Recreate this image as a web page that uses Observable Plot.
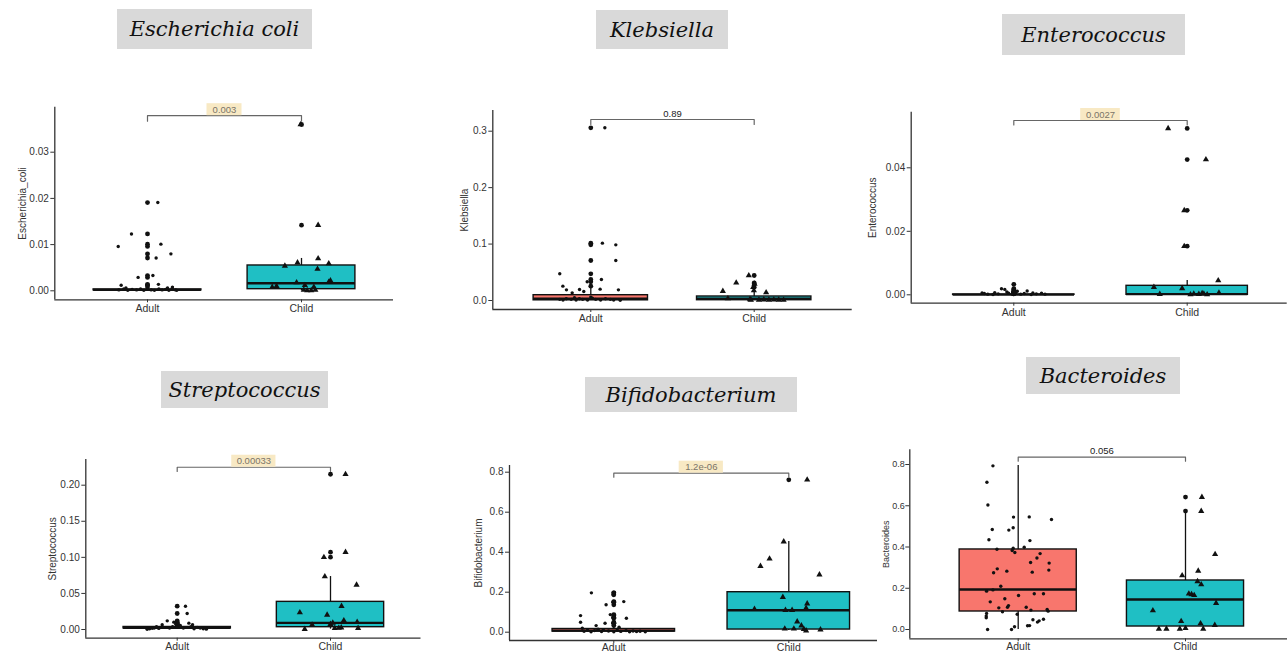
<!DOCTYPE html>
<html><head><meta charset="utf-8">
<script src="https://cdn.jsdelivr.net/npm/d3@7"></script>
<script src="https://cdn.jsdelivr.net/npm/@observablehq/plot@0.6"></script>
<style>
body{margin:0;background:#fff;}
#root{position:relative;width:1287px;height:653px;overflow:hidden;background:#fff;}
.title{position:absolute;background:#d9d9d9;display:flex;align-items:center;justify-content:center;font-family:"DejaVu Serif",serif;font-style:italic;color:#111;white-space:nowrap;font-size:21px;}
.panel{position:absolute;}
.panel svg{overflow:visible;}
</style></head><body><div id="root"></div>
<script>
// ---------------- data ----------------
const groups = ["Adult", "Child"];
const taxa = ["Escherichia coli", "Klebsiella", "Enterococcus", "Streptococcus", "Bifidobacterium", "Bacteroides"];
const yTitles = ["Escherichia_coli", "Klebsiella", "Enterococcus", "Streptococcus", "Bifidobacterium", "Bacteroides"];
const yTicks = [[0, 0.01, 0.02, 0.03], [0, 0.1, 0.2, 0.3], [0, 0.02, 0.04], [0, 0.05, 0.1, 0.15, 0.2], [0, 0.2, 0.4, 0.6, 0.8], [0, 0.2, 0.4, 0.6, 0.8]];
const yFormats = [".2f", ".1f", ".2f", ".2f", ".1f", ".1f"];
const pLabels = ["0.003", "0.89", "0.0027", "0.00033", "1.2e-06", "0.056"];
const pHighlight = [true, false, true, true, true, false];
const bracketY = [0.0379, 0.3207, 0.0549, 0.2249, 0.795, 0.8354];
const bracketTip = [0.0367, 0.3119, 0.0535, 0.219, 0.775, 0.816];
// box stats [q1, median, q3, whiskerLow, whiskerHigh]
const boxAdult = [[0.0001, 0.0002, 0.0003, 0, 0.0007], [0.0003, 0.003, 0.0094, 0, 0.0236], [0, 0.00005, 0.0001, 0, 0.0002], [0.0015, 0.0025, 0.0035, 0, 0.0055], [0.003, 0.008, 0.016, 0, 0.028], [0.0873, 0.194, 0.388, 0, 0.795]];
const boxChild = [[0.00035, 0.00165, 0.00548, 0, 0.0070], [0.0005, 0.003, 0.0071, 0, 0.0177], [0, 0.0002, 0.00283, 0, 0.0045], [0.0032, 0.0092, 0.0383, 0.0005, 0.0734], [0.0133, 0.11, 0.2, 0.008, 0.453], [0.0145, 0.1455, 0.2376, 0.003, 0.572]];
// jittered observations [horizontal jitter (category units), value]
const ecoliAdult = [[-0.19,0.0096],[-0.104,0.0123],[0.067,0.0191],[0.087,0.0101],[0.056,0.0071],[0.152,0.0080],[-0.061,0.0029],[0.035,0.0033],[0.071,0.0014],[-0.171,0.0012],[0.162,0.0008],[-0.186,0.0002],[-0.154,0.0004],[-0.128,0.0001],[-0.1,0.0003],[-0.071,0.0002],[-0.045,0.0004],[-0.024,0.0001],[0.0,0.0003],[0.024,0.0002],[0.045,0.0001],[0.074,0.0004],[0.095,0.0002],[0.117,0.0003],[0.139,0.0001],[0.16,0.0005],[0.182,0.0002],[0.19,0.0001],[-0.14,0.0006],[0.13,0.0006]];
const ecoliChild = [[-0.006,0.0360],[0.108,0.0142],[-0.108,0.0054],[-0.026,0.0061],[0.108,0.0070],[0.177,0.0059],[0.104,0.0047],[-0.032,0.0018],[0.188,0.0022],[0.022,0.0012],[-0.19,0.0008],[-0.162,0.0010],[0.015,0.0002],[0.037,0.0001],[0.063,0.0001],[0.09,0.0002],[0.08,0.0008],[0.177,0.0019]];
const klebAdult = [[0.086,0.306],[-0.19,0.0473],[0.071,0.1016],[0.153,0.0986],[0.153,0.0709],[0.065,0.0372],[-0.022,0.0331],[-0.171,0.0254],[-0.149,0.0189],[-0.114,0.0136],[-0.069,0.0195],[-0.043,0.016],[0.057,0.0201],[0.169,0.0189],[-0.19,0.002],[-0.17,0.001],[-0.15,0.003],[-0.12,0.002],[-0.09,0.001],[-0.07,0.003],[-0.05,0.002],[-0.02,0.001],[0.01,0.004],[0.03,0.002],[0.06,0.001],[0.09,0.003],[0.12,0.002],[0.14,0.001],[0.18,0.0005],[0.0,0.006],[-0.1,0.005]];
const klebChild = [[-0.192,0.0165],[-0.11,0.0313],[-0.033,0.0443],[0.073,0.0142],[-0.161,0.0035],[-0.006,0.0236],[0.002,0.0295],[-0.002,0.0177],[-0.02,0.001],[0.029,0.001],[0.059,0.0015],[0.09,0.001],[0.18,0.0008],[-0.026,0.002],[0.12,0.0012],[0.15,0.001]];
const enteroAdult = [[-0.183,0.0006],[-0.17,0.0004],[-0.15,0.0002],[-0.12,0.0001],[-0.071,0.0019],[-0.052,0.0017],[-0.09,0.0003],[-0.03,0.0005],[-0.01,0.0002],[0.0,0.0033],[0.01,0.0008],[0.04,0.0002],[0.077,0.0012],[0.06,0.0004],[0.1,0.0001],[0.13,0.0003],[0.16,0.0005],[0.18,0.0002],[-0.04,0.0009],[0.02,0.0011],[-0.11,0.0007],[0.11,0.0006]];
const enteroChild = [[-0.11,0.0524],[0.108,0.0426],[-0.017,0.0266],[-0.017,0.0153],[0.179,0.0045],[-0.192,0.0024],[-0.029,0.002],[-0.158,0.0002],[0.038,0.0003],[0.067,0.0002],[0.096,0.0003],[0.115,0.0001],[0.183,0.0006],[0.019,0.0001],[0.086,0.0005]];
const streptoAdult = [[0.054,0.0323],[0.065,0.0222],[-0.065,0.012],[-0.022,0.0102],[0.076,0.0088],[-0.098,0.0065],[-0.135,0.004],[-0.196,0.0003],[-0.163,0.0018],[-0.18,0.001],[-0.15,0.002],[-0.12,0.0015],[-0.09,0.003],[-0.05,0.002],[-0.03,0.004],[0.0,0.003],[0.02,0.0055],[0.04,0.002],[0.09,0.004],[0.11,0.001],[0.13,0.003],[0.15,0.002],[0.17,0.001],[0.19,0.0005],[0.1,0.0065],[-0.01,0.0075]];
const streptoChild = [[0.098,0.2152],[-0.043,0.1002],[0.098,0.1072],[-0.037,0.0734],[0.17,0.0619],[0.072,0.0323],[-0.2,0.0236],[-0.022,0.0203],[-0.12,0.0065],[-0.168,0.0005],[0.015,0.0092],[0.087,0.0125],[0.174,0.0102],[0.18,0.0018],[0.028,0.0018],[0.054,0.002],[0.07,0.0025],[0.0,0.0075]];
const bifidoAdult = [[-0.128,0.1967],[0.057,0.153],[-0.044,0.137],[-0.19,0.083],[0.072,0.07],[-0.19,0.05],[-0.05,0.045],[-0.101,0.033],[-0.02,0.088],[0.0,0.197],[-0.004,0.187],[-0.004,0.15],[-0.004,0.075],[-0.004,0.045],[-0.17,0.005],[-0.15,0.01],[-0.13,0.002],[-0.11,0.008],[-0.09,0.015],[-0.07,0.003],[-0.06,0.012],[-0.03,0.006],[0.0,0.002],[0.02,0.01],[0.04,0.004],[0.07,0.008],[0.09,0.002],[0.11,0.006],[0.13,0.003],[0.15,0.005],[0.18,0.002],[-0.18,0.02],[0.03,0.025]];
const bifidoChild = [[0.105,0.762],[-0.029,0.453],[-0.11,0.367],[-0.162,0.33],[0.175,0.288],[-0.034,0.175],[0.105,0.143],[-0.196,0.115],[-0.019,0.11],[0.019,0.11],[0.099,0.12],[0.048,0.053],[0.072,0.033],[-0.023,0.017],[0.086,0.015],[0.099,0.008],[0.181,0.013],[0.029,0.017]];
const bactAdult = [[-0.151,0.7935],[-0.187,0.714],[-0.181,0.604],[-0.155,0.485],[-0.175,0.435],[-0.028,0.545],[-0.03,0.493],[-0.056,0.482],[0.066,0.546],[0.199,0.533],[0.07,0.431],[0.036,0.399],[-0.127,0.389],[-0.036,0.383],[-0.03,0.394],[-0.02,0.373],[0.131,0.368],[0.112,0.347],[0.074,0.325],[0.185,0.322],[0.183,0.288],[-0.125,0.294],[-0.147,0.275],[-0.068,0.283],[0.084,0.278],[-0.104,0.21],[-0.151,0.192],[-0.189,0.186],[0.002,0.165],[0.096,0.173],[0.151,0.173],[-0.08,0.149],[-0.167,0.134],[-0.058,0.116],[-0.064,0.108],[-0.116,0.105],[0.048,0.108],[0.173,0.097],[0.179,0.089],[0.076,0.094],[-0.094,0.086],[-0.189,0.078],[-0.191,0.065],[-0.191,0.057],[-0.006,0.074],[0.151,0.05],[0.088,0.047],[0.125,0.042],[0.115,0.036],[0.068,0.019],[0.056,0.018],[-0.022,0.013],[-0.183,0.0],[-0.04,0.0]];
const bactChild = [[0.098,0.642],[0.094,0.574],[0.177,0.365],[0.076,0.284],[-0.02,0.262],[0.072,0.233],[0.094,0.218],[0.02,0.173],[0.036,0.17],[0.052,0.166],[0.183,0.128],[-0.195,0.092],[-0.026,0.04],[0.09,0.029],[0.175,0.021],[-0.159,0.003],[-0.114,0.003],[-0.034,0.003],[0.0,0.006],[0.106,0.003]];
const pointSets = [[ecoliAdult, ecoliChild], [klebAdult, klebChild], [enteroAdult, enteroChild], [streptoAdult, streptoChild], [bifidoAdult, bifidoChild], [bactAdult, bactChild]];

// ---------------- layout (pixels) and styles ----------------
const groupFill = ["#F8766D", "#1FBFC4"];
const titleBoxes = [[117, 9, 195, 40], [596, 10, 132, 39], [1002, 14, 183, 41], [161, 371, 167, 37], [585, 377, 212, 35], [1026, 357, 154, 37]];
const layout = [
  {x0:0, y0:60, w:430, h:265, left:54.3, right:393, top:106.7, bottom:299.3, c1:147, c2:301, ref:[0,290.3,0.03,151.7], lab:31, tf:10, xpad:2},
  {x0:430, y0:60, w:430, h:265, left:492.3, right:851.7, top:110, bottom:309, c1:590.3, c2:753.7, ref:[0,300,0.3,130.7], lab:27, tf:10, xpad:2},
  {x0:860, y0:60, w:427, h:265, left:910.7, right:1286.7, top:111.7, bottom:302.7, c1:1013.3, c2:1186.7, ref:[0,294.3,0.04,167.3], lab:37, tf:10, xpad:2},
  {x0:0, y0:415, w:430, h:238, left:85.3, right:420.5, top:459, bottom:637.7, c1:176.7, c2:330, ref:[0,629,0.2,484.7], lab:32, tf:10, xpad:1},
  {x0:430, y0:415, w:447, h:238, left:509, right:877, top:465, bottom:640, c1:613.3, c2:788.3, ref:[0,631.7,0.8,471.7], lab:30, tf:10, xpad:0},
  {x0:860, y0:415, w:427, h:238, left:909.3, right:1287, top:449.3, bottom:638.3, c1:1017.7, c2:1185, ref:[0,629,0.8,464], lab:22, tf:9, xpad:1}
];

const root = document.getElementById("root");

taxa.forEach((t, k) => {
  const [tx, ty, tw, th] = titleBoxes[k];
  const d = document.createElement("div");
  d.className = "title";
  Object.assign(d.style, {left: tx + "px", top: ty + "px", width: tw + "px", height: th + "px"});
  d.textContent = t;
  root.appendChild(d);
});

function drawPanel(k) {
  const L = layout[k];
  const pxPerUnit = (L.ref[1] - L.ref[3]) / (L.ref[2] - L.ref[0]);
  const vAt = p => L.ref[0] + (L.ref[1] - p) / pxPerUnit;
  const yDomain = [vAt(L.bottom), vAt(L.top)];
  const sp = L.c2 - L.c1;
  const xDomain = [1 - (L.c1 - L.left) / sp, 2 + (L.right - L.c2) / sp];
  const stats = [boxAdult[k], boxChild[k]];
  const boxes = stats.map((s, i) => ({g: i + 1, q1: s[0], med: s[1], q3: s[2], lo: s[3], hi: s[4]}));
  const jit = [[], []];
  const outliers = [];
  pointSets[k].forEach((arr, i) => arr.forEach(([j, v]) => {
    jit[i].push({x: i + 1 + j, v});
    if (v > stats[i][4] || v < stats[i][3]) outliers.push({g: i + 1, v});
  }));
  const bw = 0.35;
  const lbl = pLabels[k];
  const lblW = lbl.length * 4.6 + 12;
  const bracket = [[1, bracketTip[k]], [1, bracketY[k]], [2, bracketY[k]], [2, bracketTip[k]]];
  const marks = [
    Plot.ruleX([xDomain[0]], {stroke: "#333", strokeWidth: 1.3}),
    Plot.ruleY([yDomain[0]], {stroke: "#333", strokeWidth: 1.3}),
    Plot.axisY({ticks: yTicks[k], tickFormat: d3.format(yFormats[k]), tickSize: 4, tickPadding: k === 5 ? 1 : 2, fontSize: L.tf,
      label: yTitles[k], labelAnchor: "center", labelArrow: "none", labelOffset: L.lab + 5}),
    Plot.axisX({ticks: [1, 2], tickFormat: d => groups[d - 1], tickSize: 3, tickPadding: L.xpad, fontSize: 10.5, label: null}),
    Plot.ruleX(boxes, {x: "g", y1: "q3", y2: "hi", stroke: "#111", strokeWidth: 1.3}),
    Plot.ruleX(boxes, {x: "g", y1: "lo", y2: "q1", stroke: "#111", strokeWidth: 1.3}),
    Plot.rect(boxes.filter(b => b.g === 1), {x1: d => d.g - bw, x2: d => d.g + bw, y1: "q1", y2: "q3", fill: groupFill[0], stroke: "#111", strokeWidth: 1.4}),
    Plot.rect(boxes.filter(b => b.g === 2), {x1: d => d.g - bw, x2: d => d.g + bw, y1: "q1", y2: "q3", fill: groupFill[1], stroke: "#111", strokeWidth: 1.4}),
    Plot.ruleY(boxes, {x1: d => d.g - bw, x2: d => d.g + bw, y: "med", stroke: "#111", strokeWidth: 2.4}),
    Plot.dot(outliers, {x: "g", y: "v", r: 2.4, fill: "#111", stroke: null}),
    Plot.dot(jit[0], {x: "x", y: "v", r: 1.7, fill: "#111", stroke: null, symbol: "circle"}),
    Plot.dot(jit[1], {x: "x", y: "v", r: 2.3, fill: "#111", stroke: null, symbol: "triangle"}),
    Plot.line(bracket, {x: d => d[0], y: d => d[1], stroke: "#666", strokeWidth: 1.2})
  ];
  if (pHighlight[k]) {
    marks.push(Plot.rect([{}], {x1: 1.5, x2: 1.5, y1: bracketY[k], y2: bracketY[k], fill: "#f8e9c4",
      insetLeft: -lblW / 2, insetRight: -lblW / 2, insetTop: -12, insetBottom: 0}));
  }
  marks.push(Plot.text([lbl], {x: 1.5, y: bracketY[k], text: d => d, dy: -6, fontSize: 9.5,
    fill: pHighlight[k] ? "#7a7468" : "#222"}));
  const chart = Plot.plot({
    width: L.w, height: L.h,
    marginLeft: L.left - L.x0, marginRight: L.x0 + L.w - L.right,
    marginTop: L.top - L.y0, marginBottom: L.y0 + L.h - L.bottom,
    x: {type: "linear", domain: xDomain},
    y: {type: "linear", domain: yDomain},
    style: {fontFamily: "'Liberation Sans', Arial, sans-serif", fontSize: "10px", color: "#333", background: "transparent", overflow: "visible"},
    marks
  });
  const wrap = document.createElement("div");
  wrap.className = "panel";
  Object.assign(wrap.style, {left: L.x0 + "px", top: L.y0 + "px", width: L.w + "px", height: L.h + "px"});
  wrap.appendChild(chart);
  root.appendChild(wrap);
}
taxa.forEach((t, k) => drawPanel(k));
</script>
</body></html>
